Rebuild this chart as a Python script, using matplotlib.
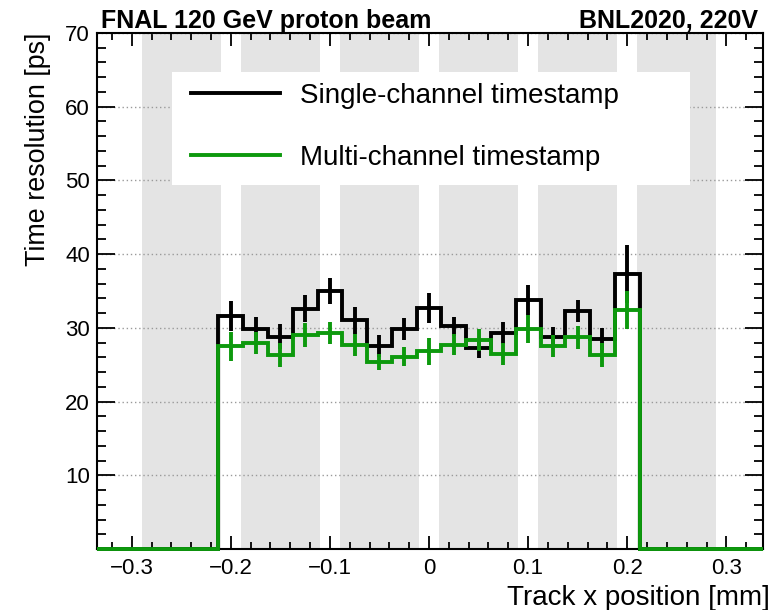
import numpy as np
import matplotlib
matplotlib.use("Agg")
import matplotlib.pyplot as plt
from matplotlib.ticker import MultipleLocator
from matplotlib.patches import Rectangle

# ---------------- data ----------------
bin_lo, bin_hi, n_bins = -0.2125, 0.2125, 17
single_res = [31.6, 29.9, 28.8, 32.6, 35.0, 31.0, 27.5, 29.9, 32.7,
              30.2, 27.2, 29.3, 33.8, 28.8, 32.3, 28.5, 37.3]
single_err = [2.0, 1.6, 1.7, 1.8, 1.7, 1.8, 1.5, 1.5, 2.0,
              1.3, 1.3, 1.5, 2.0, 1.3, 1.5, 1.5, 3.9]
multi_res = [27.5, 28.0, 26.3, 29.0, 29.3, 27.7, 25.4, 26.1, 26.8,
             27.7, 28.3, 26.5, 29.9, 27.5, 28.7, 26.3, 32.4]
multi_err = [2.0, 1.5, 1.6, 1.6, 1.5, 1.5, 1.1, 1.3, 1.8,
             1.4, 1.5, 1.5, 1.9, 1.5, 1.6, 1.6, 2.6]
strip_lo = [-0.29, -0.19, -0.09, 0.01, 0.11, 0.21]
strip_hi = [-0.21, -0.11, -0.01, 0.09, 0.19, 0.29]
xticks = [-0.3, -0.2, -0.1, 0.0, 0.1, 0.2, 0.3]
xticklabels = ["\u22120.3", "\u22120.2", "\u22120.1", "0", "0.1", "0.2", "0.3"]
yticks = [10, 20, 30, 40, 50, 60, 70]
xlim = (-0.335, 0.337)
ylim = (0, 70)

plt.rcParams["font.family"] = ["Liberation Sans", "DejaVu Sans"]

BLACK = "#000000"
GREEN = "#0d990d"
GREY = "#e4e4e4"

fig = plt.figure(figsize=(7.74, 6.10), dpi=100)
ax = fig.add_axes([97 / 774, 1 - 549 / 610, 666 / 774, 516 / 610])
ax.set_xlim(*xlim)
ax.set_ylim(*ylim)

# strips
for lo, hi in zip(strip_lo, strip_hi):
    ax.axvspan(lo, hi, color=GREY, lw=0, zorder=0.1)

# grid
ax.set_axisbelow(True)
ax.yaxis.grid(True, which="major", ls=(0, (1, 2)), color="#9a9a9a", lw=1.0)

# legend box
ax.add_patch(Rectangle((0.113, 0.705), 0.777, 0.219, transform=ax.transAxes,
                       facecolor="white", edgecolor="none", zorder=0.8))

edges = np.linspace(bin_lo, bin_hi, n_bins + 1)
centers = 0.5 * (edges[:-1] + edges[1:])
full_edges = np.concatenate([[xlim[0]], edges, [xlim[1]]])

lw = 2.8
for vals, errs, col, lab, z in [(single_res, single_err, BLACK, "Single-channel timestamp", 3),
                                (multi_res, multi_err, GREEN, "Multi-channel timestamp", 4)]:
    padded = np.concatenate([[0.0], vals, [0.0]])
    ax.stairs(padded, full_edges, baseline=None, color=col, lw=lw,
              zorder=z, clip_on=False, label=lab)
    ax.errorbar(centers, vals, yerr=errs, fmt="none", ecolor=col,
                elinewidth=lw, capsize=0, zorder=z)

leg = ax.legend(loc="upper left", bbox_to_anchor=(0.141, 0.903), frameon=False,
                fontsize=20, handlelength=3.2, handletextpad=0.71,
                labelspacing=1.29, borderpad=0, borderaxespad=0)
leg.set_zorder(5)
for h in leg.get_lines():
    h.set_linewidth(lw)

# ticks
ax.set_xticks(xticks)
ax.set_xticklabels(xticklabels)
ax.xaxis.set_minor_locator(MultipleLocator(0.02))
ax.set_yticks(yticks)
ax.yaxis.set_minor_locator(MultipleLocator(2))
ax.tick_params(axis="both", which="both", direction="in", top=True, right=True,
               width=1.3, colors="black")
ax.tick_params(axis="x", which="major", length=9.5, pad=6.5, labelsize=16)
ax.tick_params(axis="x", which="minor", length=5)
ax.tick_params(axis="y", which="major", length=13, pad=5, labelsize=16)
ax.tick_params(axis="y", which="minor", length=6.5)
for sp in ax.spines.values():
    sp.set_linewidth(1.5)

ax.set_xlabel("Track x position [mm]", fontsize=20, ha="right", va="baseline")
ax.xaxis.set_label_coords((770 - 97) / 666, (549 - 605) / 516)
ax.set_ylabel("Time resolution [ps]", fontsize=19.4, loc="top", labelpad=10)

fig.text(101 / 774, 1 - 28 / 610, "FNAL 120 GeV proton beam", fontsize=18,
         fontweight="bold", ha="left", va="baseline")
fig.text(758 / 774, 1 - 28 / 610, "BNL2020, 220V", fontsize=18,
         fontweight="bold", ha="right", va="baseline")

fig.savefig("out.png", dpi=100)
